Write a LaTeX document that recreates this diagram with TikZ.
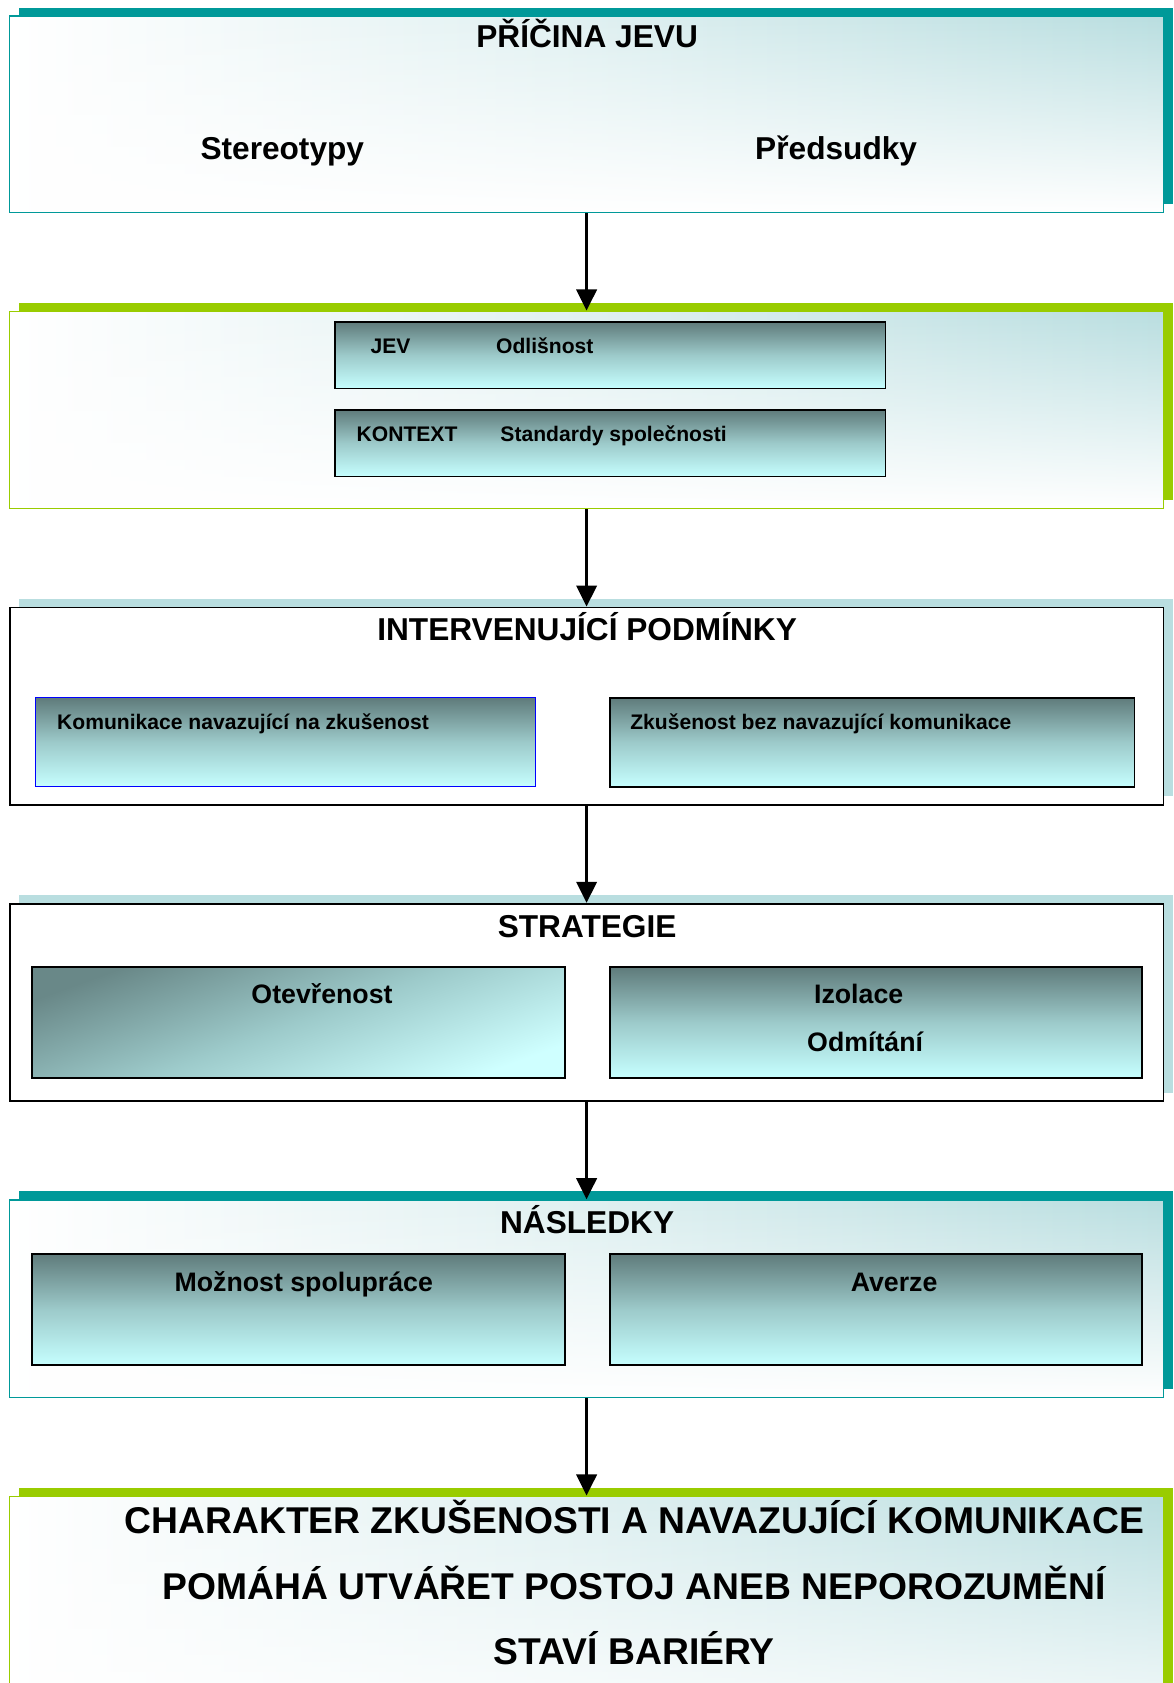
\documentclass[tikz,border=0pt]{standalone}
\usepackage{fontspec}
\setmainfont{Liberation Sans}
\usetikzlibrary{arrows.meta,fit,shadows,fadings}

\definecolor{tealband}{RGB}{0,153,153}
\definecolor{limeband}{RGB}{153,204,0}
\definecolor{paleband}{RGB}{185,222,224}
\definecolor{innerdark}{RGB}{95,123,123}
\definecolor{innerlight}{RGB}{198,255,255}

\tikzset{
  boxshadow/.style={drop shadow={shadow xshift=6.9pt, shadow yshift=6.1pt, fill=#1, opacity=1}},
  stagebox/.style={inner sep=0pt, line width=1pt, boxshadow=#1, left color=white,
    right color=paleband, middle color=white!55!paleband,
    postaction={fill=white, path fading=north}, postaction={draw=#1}},
  plainbox/.style={inner sep=0pt, line width=1.3pt, draw=black, fill=white, boxshadow=paleband},
  subbox/.style={inner sep=0pt, line width=1.3pt, draw=black, top color=innerdark,
    bottom color=innerlight, middle color=innerlight!60!innerdark},
  flowarrow/.style={line width=2pt, -{Triangle[width=14.5pt,length=15pt]}},
  headline/.style={inner sep=0pt, anchor=base, font=\bfseries\fontsize{22.5}{27}\selectfont},
  tagtext/.style={inner sep=0pt, anchor=base west, font=\bfseries\fontsize{15}{18}\selectfont},
  entrytext/.style={inner sep=0pt, anchor=base, font=\bfseries\fontsize{19}{23}\selectfont},
  verdicttext/.style={inner sep=0pt, anchor=base, font=\bfseries\fontsize{26.5}{32}\selectfont}
}

\begin{document}
\begin{tikzpicture}[x=0.02683cm, y=-0.02683cm]
\useasboundingbox (0,0) rectangle (1093,1568);

% 原因
\node[stagebox=tealband, fit={(9,15) (1084,198)}] (cause) {};
\node[headline] (causetitle) at (547,44) {PŘÍČINA JEVU};
\node[headline] (stereo) at (263,149) {Stereotypy};
\node[headline] (prejud) at (779,149) {Předsudky};

% 现象与背景
\node[stagebox=limeband, fit={(9,290) (1084,474)}] (phenom) {};
\node[subbox, fit={(312,300) (825,362)}] (jevbox) {};
\node[tagtext] (jevtag) at (345,329) {JEV};
\node[tagtext] (jevtext) at (462,329) {Odlišnost};
\node[subbox, fit={(312,382) (825,444)}] (ctxbox) {};
\node[tagtext] (ctxtag) at (332,411) {KONTEXT};
\node[tagtext] (ctxtext) at (466,411) {Standardy společnosti};

% 干预条件
\node[plainbox, fit={(9,566) (1084,750)}] (interv) {};
\node[headline] (intervtitle) at (547,597) {INTERVENUJÍCÍ PODMÍNKY};
\node[subbox, draw=blue, line width=1pt, fit={(33,650) (499,733)}] (commbox) {};
\node[tagtext] (commtext) at (53,680) {Komunikace navazující na zkušenost};
\node[subbox, fit={(568,650) (1057,733)}] (expbox) {};
\node[tagtext] (exptext) at (587,680) {Zkušenost bez navazující komunikace};

% 策略
\node[plainbox, fit={(9,842) (1084,1026)}] (strat) {};
\node[headline] (strattitle) at (547,873) {STRATEGIE};
\node[subbox, top color=innerdark!90!innerlight, bottom color=innerlight!85!white,
  middle color=innerlight!60!innerdark, shading angle=20,
  fit={(30,901) (526,1004)}] (openbox) {};
\node[entrytext] (opentext) at (300,935) {Otevřenost};
\node[subbox, fit={(568,901) (1064,1004)}] (isolbox) {};
\node[entrytext] (isoltext) at (800,935) {Izolace};
\node[entrytext] (rejtext) at (806,980) {Odmítání};

% 后果
\node[stagebox=tealband, fit={(9,1118) (1084,1302)}] (conseq) {};
\node[headline] (conseqtitle) at (547,1149) {NÁSLEDKY};
\node[subbox, fit={(30,1168) (526,1272)}] (coopbox) {};
\node[entrytext] (cooptext) at (283,1203) {Možnost spolupráce};
\node[subbox, fit={(568,1168) (1064,1272)}] (aversbox) {};
\node[entrytext] (averstext) at (833,1203) {Averze};

% 结论
\node[stagebox=limeband, fit={(9,1394) (1084,1640)}] (verdict) {};
\node[verdicttext] (lineone) at (591,1429) {CHARAKTER ZKUŠENOSTI A NAVAZUJÍCÍ KOMUNIKACE};
\node[verdicttext] (linetwo) at (591,1490) {POMÁHÁ UTVÁŘET POSTOJ ANEB NEPOROZUMĚNÍ};
\node[verdicttext] (linethree) at (591,1551) {STAVÍ BARIÉRY};

% 箭头
\foreach \a/\b in {cause/phenom, phenom/interv, interv/strat, strat/conseq, conseq/verdict}
  \draw[flowarrow] (\a.south) -- (\b.north);

\end{tikzpicture}
\end{document}
